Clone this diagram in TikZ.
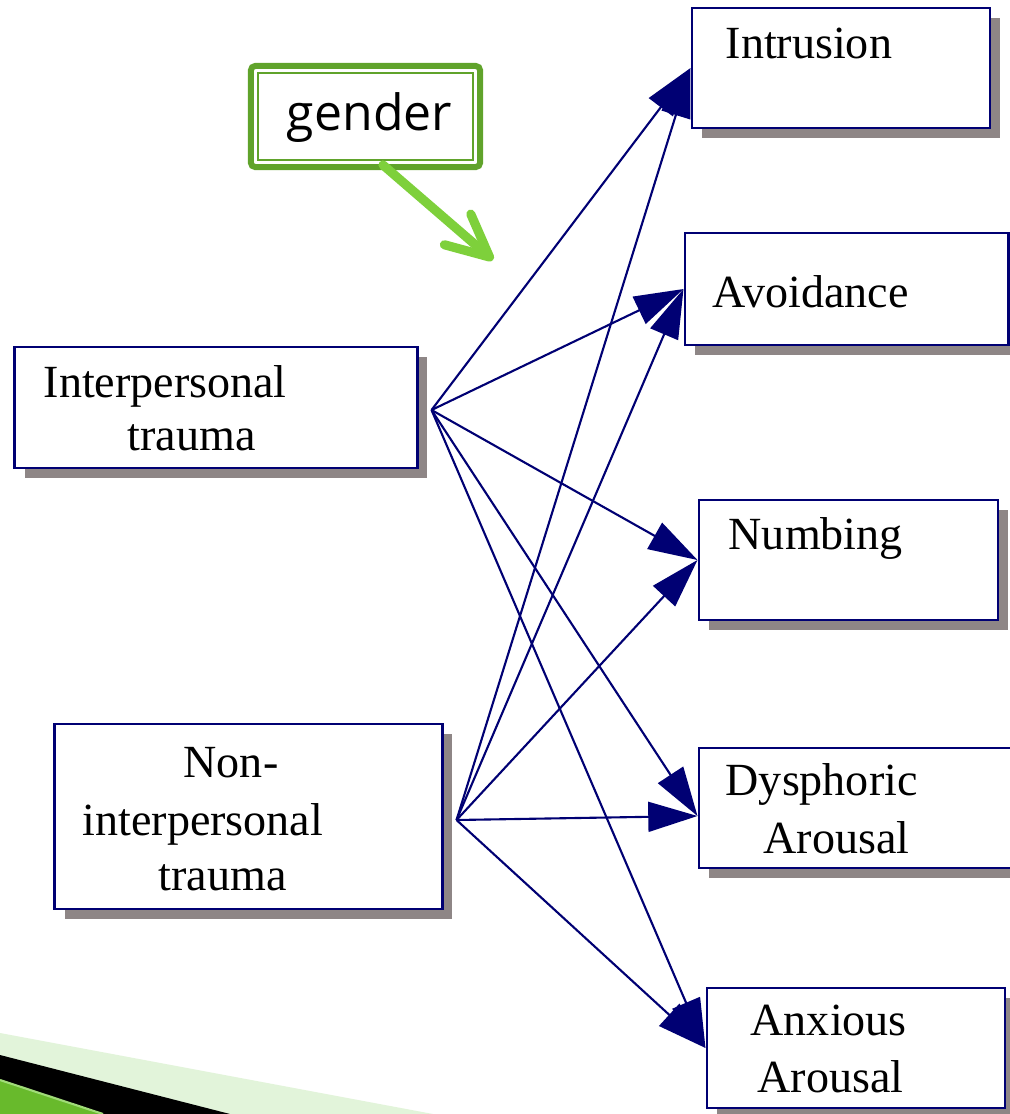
\documentclass[tikz,border=0pt]{standalone}
\usepackage{fontspec}
\setmainfont{Liberation Serif}
\newfontfamily\labelsans{Open Sans}
\usetikzlibrary{arrows.meta,shadows}
\definecolor{navyline}{RGB}{0,0,115}
\definecolor{shadowgray}{RGB}{142,134,134}
\definecolor{gdark}{RGB}{96,163,43}
\definecolor{glime}{RGB}{126,208,59}
\definecolor{gpale}{RGB}{226,244,218}
\definecolor{gband}{RGB}{104,186,44}
\definecolor{gedge}{RGB}{160,220,120}
\begin{document}
\begin{tikzpicture}[x=0.01cm,y=-0.01cm,
  box/.style={draw=navyline, line width=0.8pt, fill=white, rectangle, inner sep=0pt,
    drop shadow={shadow xshift=0.1cm, shadow yshift=-0.1cm, fill=shadowgray, opacity=1}},
  lbl/.style={anchor=base west, inner sep=0pt, font=\fontsize{13.1}{15}\selectfont},
  link/.style={draw=navyline, line width=0.6pt, -{Triangle[length=14pt,width=8.5pt]}},
  cue/.style={draw=glime, line width=2.6pt, line cap=round,
    -{Straight Barb[length=12pt,width=11.5pt,line cap=round,line join=round]}}
]
\useasboundingbox[fill=white] (0,0) rectangle (1010,1114);

% swoosh in the lower left corner
\fill[gpale] (0,1033) -- (433,1114) -- (0,1114) -- cycle;
\fill[black] (0,1055) -- (230,1114) -- (0,1114) -- cycle;
\fill[gband] (0,1080) -- (103,1114) -- (0,1114) -- cycle;
\draw[gedge, line width=0.6pt] (0,1080) -- (103,1114);

% trauma types
\node[box, minimum width=4.02cm, minimum height=1.21cm] (ip) at (216,407.5) {};
\node[box, minimum width=3.87cm, minimum height=1.85cm] (nip) at (248.5,816.5) {};

% symptom clusters
\node[box, minimum width=2.98cm, minimum height=1.20cm] (intr) at (841,68) {};
\node[box, minimum width=3.23cm, minimum height=1.12cm] (avoid) at (846.5,289) {};
\node[box, minimum width=2.99cm, minimum height=1.20cm] (numb) at (848.5,560) {};
\node[box, minimum width=3.22cm, minimum height=1.20cm] (dys) at (860,808) {};
\node[box, minimum width=2.98cm, minimum height=1.20cm] (anx) at (856,1048) {};

% box texts
\node[lbl] (ipT1) at (43,397) {Interpersonal};
\node[lbl] (ipT2) at (127,450) {trauma};
\node[lbl] (nipT1) at (183,777) {Non-};
\node[lbl] (nipT2) at (82,835) {interpersonal};
\node[lbl] (nipT3) at (158,890) {trauma};
\node[lbl] (intrT) at (725,58) {Intrusion};
\node[lbl] (avoidT) at (712,307) {Avoidance};
\node[lbl] (numbT) at (728,549) {Numbing};
\node[lbl] (dysT1) at (725,795) {Dysphoric};
\node[lbl] (dysT2) at (763,853) {Arousal};
\node[lbl] (anxT1) at (750,1035) {Anxious};
\node[lbl] (anxT2) at (757,1092) {Arousal};

% paths
\coordinate (ipo) at ([xshift=0.13cm,yshift=-0.025cm]ip.east);
\coordinate (nipo) at ([xshift=0.13cm,yshift=-0.035cm]nip.east);
\foreach \t in {intr,avoid,numb,anx}{
  \draw[link] (ipo) -- (\t.west);
  \draw[link] (nipo) -- (\t.west);
}
\draw[link] (ipo) -- ([yshift=-0.08cm]dys.west);
\draw[link] (nipo) -- ([yshift=-0.08cm]dys.west);

% moderator
\node[draw=gdark, line width=1.7pt, rounded corners=1.2pt, fill=white, inner sep=0pt,
  minimum width=2.29cm, minimum height=1.01cm] (gender) at (365.5,116.5) {};
\draw[gdark, line width=0.5pt] ([shift={(0.1cm,-0.1cm)}]gender.north west)
  rectangle ([shift={(-0.1cm,0.1cm)}]gender.south east);
\node[anchor=base, inner sep=0pt, font=\labelsans\fontsize{14.2}{17}\selectfont] (genderT) at (369.5,130) {gender};
\coordinate (gtip) at (493,260);
\draw[cue] ([xshift=0.175cm,yshift=0.05cm]gender.south) -- (gtip);
\end{tikzpicture}
\end{document}
